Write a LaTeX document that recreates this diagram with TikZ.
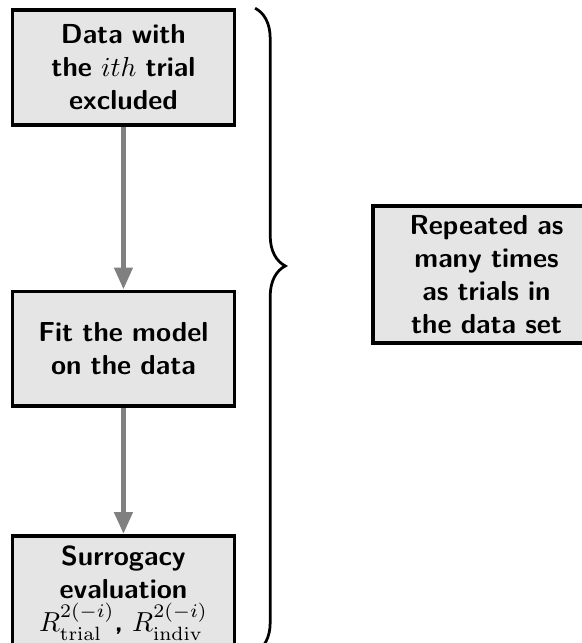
\documentclass[tikz,border=0pt]{standalone}
\usepackage{xcolor}
\usepackage{tikz}
\usetikzlibrary{arrows.meta, positioning, decorations.pathreplacing}
\tikzset{%
	stepbox/.style = {
		rectangle, draw=black, fill=gray!20,
		line width=1.3pt,
		text width=2.6cm,
		minimum width=2.8cm,
		minimum height=1.47cm
	},
	flow/.style = {
		draw=gray, line width=1.8pt,
		-{Triangle[length=8pt, width=6.5pt]}
	}
}

\begin{document}
\begin{tikzpicture}[every node/.style={font=\sffamily\bfseries}, align=center]
    \useasboundingbox (0,0) rectangle (7.44,-8.22);
    % Specification of nodes (position, etc.)
    \node (excluded)          [stepbox] at (1.578,-0.863)                    {Data with\\ the $ith$ trial\\ excluded};
    \node (fit)               [stepbox, below=2.08cm of excluded]            {Fit the model\\ on the data};
    \node (evaluation)        [stepbox, below=1.61cm of fit]                 {Surrogacy\\ evaluation\\ $R^{2(-i)}_{\mathrm{trial}}$, $R^{2(-i)}_{\mathrm{indiv}}$};
    \node (repeated)          [stepbox, minimum width=2.9cm] at (6.22,-3.51) {Repeated as\\ many times\\ as trials in\\ the data set};

    \draw[flow]               (excluded) -- (fit);
    \draw[flow]               (fit) -- (evaluation);

    % brace round the three steps
    \draw[line width=1pt, decorate, decoration={brace, amplitude=11pt, aspect=0.4}]
        ([xshift=0.243cm]excluded.north east) -- ([xshift=0.243cm]evaluation.south east);

\end{tikzpicture}
\end{document}
